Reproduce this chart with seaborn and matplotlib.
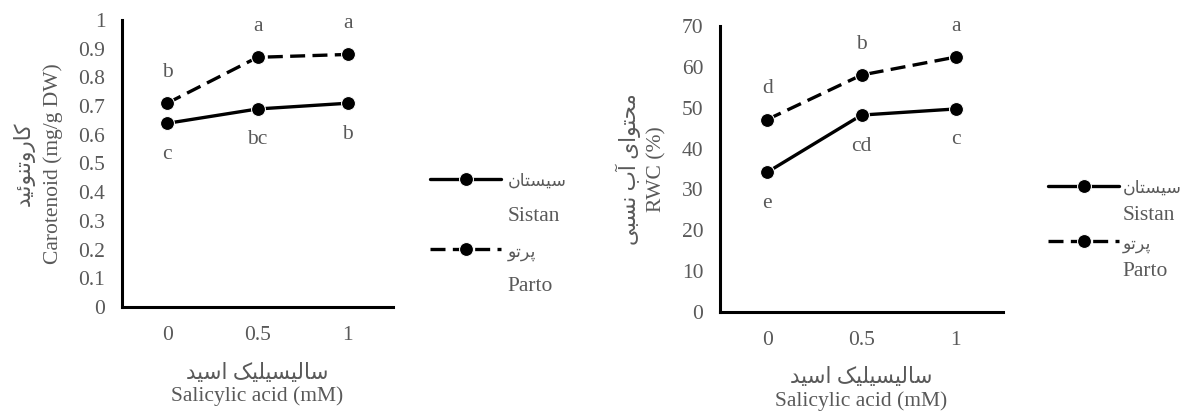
import matplotlib
matplotlib.use("Agg")
import matplotlib.pyplot as plt
import seaborn as sns
import pandas as pd
from matplotlib.lines import Line2D

# ---------------- data ----------------
sa_levels = ["0", "0.5", "1"]
cultivars = ["Sistan", "Parto"]
cultivar_fa = {"Sistan": "سیستان", "Parto": "پرتو"}

car_sistan = [0.64, 0.69, 0.71]
car_parto = [0.71, 0.87, 0.88]
car_letters_sistan = ["c", "bc", "b"]
car_letters_parto = ["b", "a", "a"]

rwc_sistan = [34.2, 48.2, 49.7]
rwc_parto = [47.1, 58.0, 62.4]
rwc_letters_sistan = ["e", "cd", "c"]
rwc_letters_parto = ["d", "b", "a"]

car_ticks = [0, 0.1, 0.2, 0.3, 0.4, 0.5, 0.6, 0.7, 0.8, 0.9, 1]
car_ticklabels = ["0", "0.1", "0.2", "0.3", "0.4", "0.5", "0.6", "0.7", "0.8", "0.9", "1"]
rwc_ticks = [0, 10, 20, 30, 40, 50, 60, 70]

# ---------------- minimal Persian shaping (presentation forms, visual order) ----------------
FORMS = {  # isolated, final, initial, medial
    "\u0627": ("\uFE8D", "\uFE8E", None, None),
    "\u0622": ("\uFE81", "\uFE82", None, None),
    "\u062F": ("\uFEA9", "\uFEAA", None, None),
    "\u0631": ("\uFEAD", "\uFEAE", None, None),
    "\u0648": ("\uFEED", "\uFEEE", None, None),
    "\u0628": ("\uFE8F", "\uFE90", "\uFE91", "\uFE92"),
    "\u067E": ("\uFB56", "\uFB57", "\uFB58", "\uFB59"),
    "\u062A": ("\uFE95", "\uFE96", "\uFE97", "\uFE98"),
    "\u0633": ("\uFEB1", "\uFEB2", "\uFEB3", "\uFEB4"),
    "\u0646": ("\uFEE5", "\uFEE6", "\uFEE7", "\uFEE8"),
    "\u06CC": ("\uFBFC", "\uFBFD", "\uFBFE", "\uFBFF"),
    "\u06A9": ("\uFB8E", "\uFB8F", "\uFB90", "\uFB91"),
    "\u0644": ("\uFEDD", "\uFEDE", "\uFEDF", "\uFEE0"),
    "\u0626": ("\uFE89", "\uFE8A", "\uFE8B", "\uFE8C"),
    "\u062D": ("\uFEA1", "\uFEA2", "\uFEA3", "\uFEA4"),
    "\u0645": ("\uFEE1", "\uFEE2", "\uFEE3", "\uFEE4"),
}


def fa(text):
    out = []
    n = len(text)
    for i, ch in enumerate(text):
        if ch not in FORMS:
            out.append(ch)
            continue
        iso, fin, ini, med = FORMS[ch]
        prev = text[i - 1] if i > 0 else None
        nxt = text[i + 1] if i < n - 1 else None
        join_prev = prev in FORMS and FORMS[prev][2] is not None
        join_next = ini is not None and nxt in FORMS
        if join_prev and join_next:
            out.append(med)
        elif join_prev:
            out.append(fin)
        elif join_next:
            out.append(ini)
        else:
            out.append(iso)
    return "".join(reversed(out))


# ---------------- style ----------------
sns.set_theme(style="white")
FAM = ["Liberation Serif", "DejaVu Sans"]
plt.rcParams["font.family"] = FAM
GRAY = "#595959"
FS = 15.5
FS_FA_LEG = 12.5

fig = plt.figure(figsize=(11.86, 4.16), dpi=100)
W, H = 1186, 416


def px_axes(x0, x1, ytop, ybot):
    return fig.add_axes([x0 / W, 1 - ybot / H, (x1 - x0) / W, (ybot - ytop) / H])


ax1 = px_axes(122, 393, 20, 307)
ax2 = px_axes(720, 1003, 26, 312)


def make_df(sistan, parto):
    rows = []
    for lvl, v in zip(sa_levels, sistan):
        rows.append({"sa": lvl, "val": v, "cultivar": "Sistan"})
    for lvl, v in zip(sa_levels, parto):
        rows.append({"sa": lvl, "val": v, "cultivar": "Parto"})
    return pd.DataFrame(rows)


def draw(ax, sistan, parto, lets_s, lets_p, ylim, ticks, ticklabels, ylab_fa, ylab_en,
         ylab_ls, leg_x, leg_y, leg_ls, leg_pad):
    df = make_df(sistan, parto)
    sns.lineplot(data=df, x="sa", y="val", style="cultivar", style_order=cultivars,
                 markers={"Sistan": "o", "Parto": "o"},
                 dashes={"Sistan": "", "Parto": (4.5, 2.2)},
                 color="black", lw=2.4, markersize=10, ax=ax, sort=False)
    handles, labels = ax.get_legend_handles_labels()
    if ax.get_legend() is not None:
        ax.get_legend().remove()
    ax.set_xlim(-0.5, 2.5)
    ax.set_ylim(*ylim)
    ax.set_yticks(ticks)
    ax.set_yticklabels(ticklabels)
    ax.tick_params(axis="y", length=0, labelsize=FS, labelcolor=GRAY, pad=12)
    ax.tick_params(axis="x", length=0, labelsize=FS, labelcolor=GRAY, pad=14)
    for lab in ax.get_xticklabels() + ax.get_yticklabels():
        lab.set_family(FAM)
    for s in ["top", "right"]:
        ax.spines[s].set_visible(False)
    for s in ["left", "bottom"]:
        ax.spines[s].set_color("black")
        ax.spines[s].set_linewidth(2.2)
    ax.set_ylabel(fa(ylab_fa) + "\n" + ylab_en, fontsize=FS, color=GRAY, family=FAM,
                  labelpad=11, linespacing=ylab_ls)
    ax.set_xlabel(fa("سالیسیلیک اسید") + "\n" + "Salicylic acid (mM)", fontsize=FS,
                  color=GRAY, family=FAM, labelpad=13, linespacing=1.2)
    # letters
    for i, (ls, lp) in enumerate(zip(lets_s, lets_p)):
        ax.annotate(ls, (i, sistan[i]), xytext=(0, -31), textcoords="offset pixels",
                    ha="center", va="center", fontsize=FS, color=GRAY, family=FAM)
        ax.annotate(lp, (i, parto[i]), xytext=(0, 31), textcoords="offset pixels",
                    ha="center", va="center", fontsize=FS, color=GRAY, family=FAM)
    # legend
    hmap = dict(zip(labels, handles))
    blank = Line2D([], [], color="none")
    leg_h = [hmap["Sistan"], blank, hmap["Parto"], blank]
    leg_l = [fa(cultivar_fa["Sistan"]), "Sistan", fa(cultivar_fa["Parto"]), "Parto"]
    leg = fig.legend(leg_h, leg_l, loc="upper left",
                     bbox_to_anchor=(leg_x / W, 1 - leg_y / H), frameon=False,
                     fontsize=FS, handlelength=3.3, handletextpad=leg_pad,
                     labelspacing=leg_ls, borderpad=0, borderaxespad=0)
    for k, t in enumerate(leg.get_texts()):
        t.set_color(GRAY)
        t.set_family(FAM)
        if k % 2 == 0:
            t.set_fontsize(FS_FA_LEG)


draw(ax1, car_sistan, car_parto, car_letters_sistan, car_letters_parto, (0, 1),
     car_ticks, car_ticklabels, "کاروتنوئید", "Carotenoid (mg/g DW)", 1.6, 430, 171, 0.72, 0.3)
draw(ax2, rwc_sistan, rwc_parto, rwc_letters_sistan, rwc_letters_parto, (0, 70),
     rwc_ticks, [str(t) for t in rwc_ticks], "محتوای آب نسبی", "RWC (%)", 1.4, 1048, 178, 0.38, 0.15)

fig.savefig("out.png", dpi=100, facecolor="white")
